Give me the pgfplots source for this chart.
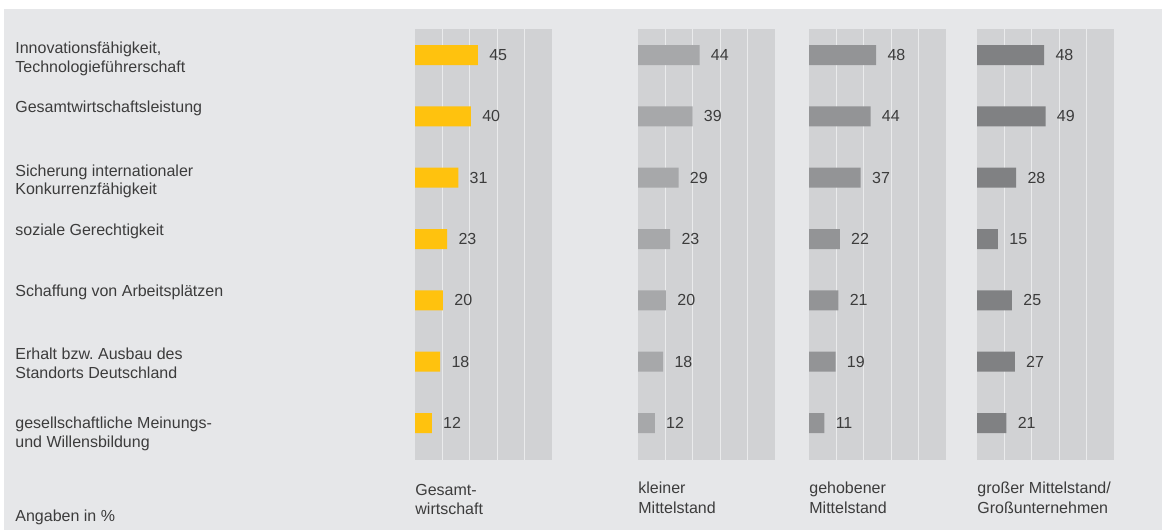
\documentclass[border=0pt]{standalone}
\usepackage{pgfplots}
\pgfplotsset{compat=1.18}
\usepackage{fontspec}
\setmainfont{Liberation Sans}
\definecolor{bg}{HTML}{E6E7E9}
\definecolor{panel}{HTML}{D1D2D4}
\definecolor{gridc}{HTML}{EAEBEC}
\definecolor{ey}{HTML}{FFC20E}
\definecolor{g1}{HTML}{A7A8AA}
\definecolor{g2}{HTML}{939496}
\definecolor{g3}{HTML}{808183}
\definecolor{txt}{HTML}{3C3C3C}
\newcommand\fs{\fontsize{8pt}{9.5pt}\selectfont}

\pgfplotsset{panel/.style={
  at={(#1*0.5pt,-29*0.5pt)}, anchor=north west,
  scale only axis, width=68.5pt, height=215.5pt,
  xmin=0, xmax=98, ymin=0.576, ymax=7.603, y dir=reverse,
  axis background/.style={fill=panel},
  axis line style={draw=none},
  tick style={draw=none},
  xtick={19.6,39.2,58.8,78.4}, xticklabels={}, ytick=\empty,
  major tick length=0pt,
  xmajorgrids, grid style={draw=gridc, line width=0.65pt},
  xbar, bar width=10pt,
  point meta=x,
  nodes near coords,
  /pgf/number format/assume math mode=true,
  every node near coord/.append style={anchor=west, inner sep=0pt, xshift=5.5pt, font=\fs, text=txt},
  clip=false,
}}

\begin{document}
\begin{tikzpicture}
\fill[white] (0,0) rectangle (581pt,-265pt);
\fill[bg] (2pt,-4.5pt) rectangle (581pt,-265pt);

\begin{axis}[panel=415]
\addplot[fill=ey, draw=none] coordinates {(45,1) (40,2) (31,3) (23,4) (20,5) (18,6) (12,7)};
\end{axis}
\begin{axis}[panel=638]
\addplot[fill=g1, draw=none] coordinates {(44,1) (39,2) (29,3) (23,4) (20,5) (18,6) (12,7)};
\end{axis}
\begin{axis}[panel=809]
\addplot[fill=g2, draw=none] coordinates {(48,1) (44,2) (37,3) (22,4) (21,5) (19,6) (11,7)};
\end{axis}
\begin{axis}[panel=977]
\addplot[fill=g3, draw=none] coordinates {(48,1) (49,2) (28,3) (15,4) (25,5) (27,6) (21,7)};
\end{axis}

\begin{scope}[x=0.5pt, y=-0.5pt, every node/.style={anchor=base west, inner sep=0pt, font=\fs, text=txt}]
\node at (15,53.3) {Innovationsfähigkeit,};
\node at (15,72.3) {Technologieführerschaft};
\node at (15,112.5) {Gesamtwirtschaftsleistung};
\node at (15,176) {Sicherung internationaler};
\node at (15,194.5) {Konkurrenzfähigkeit};
\node at (15,235) {soziale Gerechtigkeit};
\node at (15,296) {Schaffung von Arbeitsplätzen};
\node at (15,359) {Erhalt bzw.\ Ausbau des};
\node at (15,378) {Standorts Deutschland};
\node at (15,428.5) {gesellschaftliche Meinungs-};
\node at (15,447) {und Willensbildung};
\node at (15,521.5) {Angaben in \%};
\node at (415,495.5) {Gesamt-};
\node at (415,514.5) {wirtschaft};
\node at (638,493) {kleiner};
\node at (638,513.3) {Mittelstand};
\node at (809,493) {gehobener};
\node at (809,513.3) {Mittelstand};
\node at (977,493) {großer Mittelstand/};
\node at (977,513.3) {Großunternehmen};
\end{scope}
\end{tikzpicture}
\end{document}
